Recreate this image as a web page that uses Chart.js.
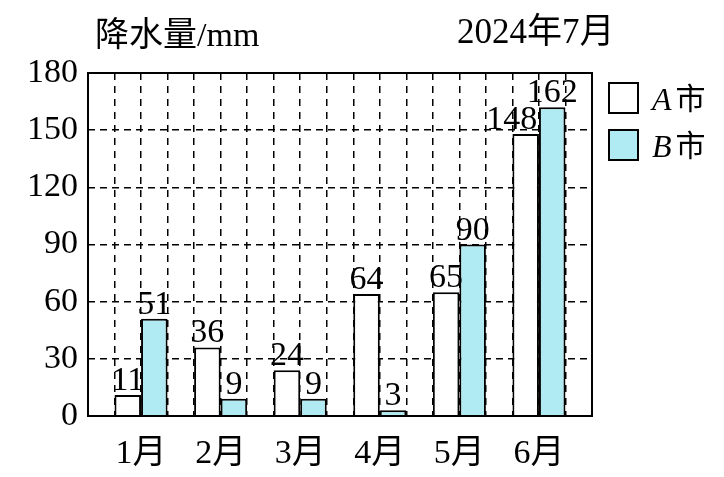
<!DOCTYPE html>
<html>
<head>
<meta charset="utf-8">
<script src="https://cdn.jsdelivr.net/npm/chart.js@4/dist/chart.umd.min.js"></script>
<style>
  body { margin: 0; background: #fff; }
  #wrap { width: 724px; height: 477px; }
</style>
</head>
<body>
<div id="wrap"><canvas id="rainChart" width="724" height="477"></canvas></div>
<script>
// Rainfall data (mm)
const months = ["1月", "2月", "3月", "4月", "5月", "6月"];
const cityA = [11, 36, 24, 64, 65, 148];
const cityB = [51, 9, 9, 3, 90, 162];
const yTicks = [0, 30, 60, 90, 120, 150, 180];

const serif = '"Liberation Serif", "Noto Sans CJK SC", serif';
const cyan = "rgb(176, 234, 242)";

// each month takes 3 grid units, bars sit on units 3i+1..3i+3
const monthX = (i) => 3 * i + 2;

// Draw value labels, titles, legend and frame
const extrasPlugin = {
  id: "extras",
  afterDatasetsDraw(chart) {
    const ctx = chart.ctx;
    ctx.save();
    ctx.fillStyle = "#000";
    ctx.font = "34px " + serif;
    ctx.textAlign = "center";
    ctx.textBaseline = "alphabetic";
    chart.data.datasets.forEach((ds, d) => {
      const meta = chart.getDatasetMeta(d);
      meta.data.forEach((bar, i) => {
        let x = bar.x;
        if (d === 0 && i === 5) x -= 14; // keep 148 off the B bar
        ctx.fillText(ds.data[i].y, x, bar.y - 5);
      });
    });
    ctx.restore();
  },
  afterDraw(chart) {
    const ctx = chart.ctx;
    const a = chart.chartArea;
    ctx.save();
    // frame
    ctx.strokeStyle = "#000";
    ctx.lineWidth = 2;
    ctx.strokeRect(a.left, a.top, a.right - a.left, a.bottom - a.top);

    // titles
    ctx.fillStyle = "#000";
    ctx.textBaseline = "alphabetic";
    ctx.textAlign = "left";
    ctx.font = "34px " + serif;
    ctx.fillText("降水量/mm", 95, 46);
    ctx.font = "35px " + serif;
    ctx.fillText("2024年7月", 457, 43);

    // legend
    const items = [["A", "#fff"], ["B", cyan]];
    items.forEach((it, k) => {
      const y = 83 + k * 47;
      ctx.fillStyle = it[1];
      ctx.fillRect(609, y, 29, 30);
      ctx.lineWidth = 2;
      ctx.strokeRect(609, y, 29, 30);
      ctx.fillStyle = "#000";
      ctx.font = "italic 32px " + serif;
      ctx.fillText(it[0], 652, y + 27);
      const w = ctx.measureText(it[0]).width;
      ctx.font = "30px " + serif;
      ctx.fillText("市", 652 + w + 4, y + 26);
    });
    ctx.restore();
  },
};

const ctx = document.getElementById("rainChart").getContext("2d");

new Chart(ctx, {
  type: "bar",
  data: {
    datasets: [
      {
        label: "A市",
        data: cityA.map((v, i) => ({ x: monthX(i), y: v })),
        backgroundColor: "#fff",
        borderColor: "#000",
        borderWidth: 2,
      },
      {
        label: "B市",
        data: cityB.map((v, i) => ({ x: monthX(i), y: v })),
        backgroundColor: cyan,
        borderColor: "#000",
        borderWidth: 2,
      },
    ],
  },
  options: {
    responsive: false,
    animation: false,
    // the ruler uses the 1-unit tick spacing, so two units per group
    categoryPercentage: 2,
    barPercentage: 1,
    layout: { padding: { left: 0, top: 73, right: 132, bottom: 0 } },
    plugins: {
      legend: { display: false },
      tooltip: { enabled: false },
    },
    scales: {
      x: {
        type: "linear",
        min: 0,
        max: 19,
        offset: false,
        afterFit(scale) { scale.height = 61; },
        afterBuildTicks(scale) {
          scale.ticks = [];
          for (let v = 0; v <= 19; v++) scale.ticks.push({ value: v });
        },
        ticks: {
          autoSkip: false,
          maxRotation: 0,
          padding: 18,
          color: "#000",
          font: { family: serif, size: 34 },
          callback(v) {
            const i = (v - 2) / 3;
            return Number.isInteger(i) && i >= 0 && i < months.length ? months[i] : "";
          },
        },
        grid: {
          offset: false,
          color: "#000",
          lineWidth: 1.5,
          drawTicks: false,
        },
        border: { display: false, dash: [7, 6] },
      },
      y: {
        min: 0,
        max: 180,
        afterFit(scale) { scale.width = 88; },
        afterBuildTicks(scale) {
          scale.ticks = yTicks.map((v) => ({ value: v }));
        },
        ticks: {
          padding: 10,
          color: "#000",
          font: { family: serif, size: 34 },
        },
        grid: {
          color: "#000",
          lineWidth: 1.5,
          drawTicks: false,
        },
        border: { display: false, dash: [7, 5] },
      },
    },
  },
  plugins: [extrasPlugin],
});
</script>
</body>
</html>
